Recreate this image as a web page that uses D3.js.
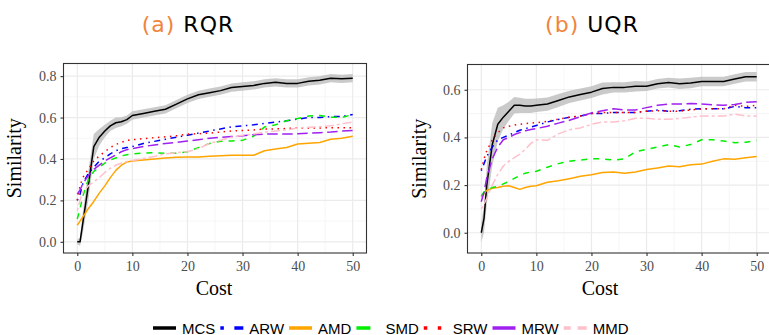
<!DOCTYPE html>
<html>
<head>
<meta charset="utf-8">
<script src="https://cdn.jsdelivr.net/npm/d3@7/dist/d3.min.js"></script>
<style>
  body { margin: 0; background: #fff; }
</style>
</head>
<body>
<svg id="chart" width="769" height="335"></svg>
<script>
// cost grid shared by every series
const cost = [0, 0.5, 1, 2, 3, 4, 5, 6, 7, 8, 9, 10, 12, 14, 16, 18, 20, 22, 24, 26, 28, 30, 32, 34, 36, 38, 40, 42, 44, 46, 48, 50];

const methods = ['MCS', 'ARW', 'AMD', 'SMD', 'SRW', 'MRW', 'MMD'];
const colors = ['#000000', '#0000ff', '#ffa500', '#00ee00', '#ff0000', '#a020f0', '#ffc0cb'];
// ggplot linetypes: solid, dotdash, solid, dashed, dotted, longdash, twodash
const linetypes = [null, [1, 3, 4, 3], null, [4, 4], [1, 3], [7, 3], [2, 2, 6, 2]];

// (a) RQR
const rqrMCS = [0, 0, 0.09, 0.27, 0.46, 0.505, 0.535, 0.56, 0.575, 0.58, 0.59, 0.61, 0.62, 0.63, 0.64, 0.665, 0.69, 0.71, 0.72, 0.73, 0.745, 0.75, 0.755, 0.765, 0.77, 0.765, 0.765, 0.775, 0.78, 0.79, 0.787, 0.79];
const rqrMCSci = [0.01, 0.02, 0.05, 0.07, 0.06, 0.04, 0.03, 0.025, 0.025, 0.022, 0.02, 0.02, 0.02, 0.02, 0.02, 0.02, 0.02, 0.02, 0.02, 0.02, 0.02, 0.02, 0.02, 0.02, 0.02, 0.02, 0.02, 0.02, 0.02, 0.02, 0.02, 0.02];
const rqrARW = [0.2, 0.23, 0.28, 0.33, 0.36, 0.39, 0.405, 0.425, 0.44, 0.45, 0.455, 0.46, 0.475, 0.485, 0.495, 0.505, 0.515, 0.525, 0.535, 0.545, 0.555, 0.56, 0.565, 0.572, 0.578, 0.585, 0.592, 0.6, 0.6, 0.605, 0.605, 0.615];
const rqrAMD = [0.08, 0.1, 0.12, 0.16, 0.195, 0.235, 0.27, 0.31, 0.345, 0.37, 0.385, 0.39, 0.395, 0.4, 0.405, 0.408, 0.41, 0.41, 0.413, 0.416, 0.418, 0.418, 0.418, 0.44, 0.448, 0.455, 0.472, 0.476, 0.48, 0.495, 0.5, 0.51];
const rqrSMD = [0.11, 0.16, 0.22, 0.3, 0.34, 0.36, 0.38, 0.395, 0.405, 0.415, 0.42, 0.425, 0.428, 0.43, 0.428, 0.428, 0.435, 0.455, 0.475, 0.485, 0.487, 0.49, 0.51, 0.555, 0.565, 0.585, 0.595, 0.607, 0.61, 0.602, 0.6, 0.615];
const rqrSRW = [0.2, 0.27, 0.31, 0.35, 0.39, 0.415, 0.435, 0.455, 0.47, 0.48, 0.49, 0.493, 0.498, 0.503, 0.507, 0.512, 0.52, 0.522, 0.525, 0.53, 0.535, 0.538, 0.54, 0.545, 0.545, 0.547, 0.55, 0.55, 0.55, 0.551, 0.551, 0.551];
const rqrMRW = [0.23, 0.25, 0.28, 0.32, 0.35, 0.37, 0.39, 0.405, 0.42, 0.435, 0.445, 0.45, 0.46, 0.468, 0.475, 0.48, 0.487, 0.493, 0.5, 0.505, 0.508, 0.512, 0.517, 0.52, 0.52, 0.52, 0.522, 0.525, 0.527, 0.53, 0.535, 0.537];
const rqrMMD = [0.15, 0.2, 0.24, 0.27, 0.29, 0.31, 0.335, 0.355, 0.37, 0.38, 0.388, 0.393, 0.402, 0.412, 0.425, 0.43, 0.435, 0.45, 0.475, 0.49, 0.505, 0.515, 0.52, 0.53, 0.535, 0.54, 0.55, 0.553, 0.556, 0.56, 0.57, 0.578];

// (b) UQR
const uqrMCS = [0, 0.06, 0.2, 0.37, 0.455, 0.485, 0.51, 0.535, 0.535, 0.532, 0.532, 0.535, 0.54, 0.555, 0.57, 0.58, 0.59, 0.605, 0.61, 0.61, 0.615, 0.615, 0.625, 0.63, 0.625, 0.628, 0.635, 0.635, 0.635, 0.645, 0.655, 0.655];
const uqrMCSci = [0.04, 0.06, 0.08, 0.09, 0.07, 0.05, 0.04, 0.035, 0.032, 0.03, 0.03, 0.028, 0.028, 0.027, 0.026, 0.025, 0.025, 0.025, 0.022, 0.022, 0.022, 0.02, 0.02, 0.02, 0.022, 0.022, 0.02, 0.02, 0.02, 0.02, 0.02, 0.02];
const uqrARW = [0.26, 0.29, 0.32, 0.36, 0.39, 0.4, 0.41, 0.42, 0.43, 0.437, 0.443, 0.45, 0.465, 0.475, 0.485, 0.49, 0.5, 0.5, 0.505, 0.505, 0.505, 0.51, 0.515, 0.51, 0.512, 0.518, 0.52, 0.52, 0.52, 0.53, 0.525, 0.525];
const uqrAMD = [0.15, 0.165, 0.178, 0.187, 0.19, 0.195, 0.197, 0.19, 0.182, 0.19, 0.195, 0.197, 0.212, 0.218, 0.227, 0.237, 0.243, 0.253, 0.255, 0.25, 0.255, 0.265, 0.272, 0.28, 0.277, 0.285, 0.288, 0.3, 0.31, 0.308, 0.315, 0.32];
const uqrSMD = [0.155, 0.17, 0.18, 0.19, 0.195, 0.205, 0.215, 0.228, 0.24, 0.25, 0.255, 0.258, 0.275, 0.29, 0.3, 0.305, 0.31, 0.31, 0.305, 0.31, 0.34, 0.35, 0.36, 0.37, 0.36, 0.37, 0.39, 0.39, 0.385, 0.378, 0.38, 0.387];
const uqrSRW = [0.265, 0.31, 0.345, 0.39, 0.42, 0.44, 0.447, 0.452, 0.455, 0.458, 0.46, 0.462, 0.467, 0.477, 0.485, 0.49, 0.5, 0.505, 0.505, 0.505, 0.505, 0.51, 0.512, 0.51, 0.51, 0.515, 0.52, 0.52, 0.52, 0.535, 0.53, 0.535];
const uqrMRW = [0.13, 0.17, 0.23, 0.31, 0.36, 0.39, 0.4, 0.412, 0.42, 0.428, 0.433, 0.437, 0.447, 0.46, 0.472, 0.487, 0.503, 0.512, 0.52, 0.515, 0.515, 0.525, 0.535, 0.54, 0.54, 0.542, 0.54, 0.537, 0.535, 0.538, 0.547, 0.55];
const uqrMMD = [0.1, 0.12, 0.145, 0.2, 0.245, 0.28, 0.3, 0.315, 0.33, 0.35, 0.375, 0.39, 0.388, 0.415, 0.432, 0.44, 0.455, 0.465, 0.465, 0.47, 0.48, 0.48, 0.477, 0.476, 0.48, 0.485, 0.49, 0.49, 0.49, 0.498, 0.49, 0.49];

const xTicks = [0, 10, 20, 30, 40, 50];
const rqrYTicks = [0, 0.2, 0.4, 0.6, 0.8];
const uqrYTicks = [0, 0.2, 0.4, 0.6];

const svg = d3.select('#chart');

const panels = [
  {
    tag: '(a)', name: 'RQR', titleX: 188,
    series: [rqrMCS, rqrARW, rqrAMD, rqrSMD, rqrSRW, rqrMRW, rqrMMD], ci: rqrMCSci,
    yTicks: rqrYTicks, yDomain: [-0.054, 0.861],
    left: 63.5, right: 366.5, top: 63.5, bottom: 253,
    yLabelX: 21, costX: 214,
  },
  {
    tag: '(b)', name: 'UQR', titleX: 592,
    series: [uqrMCS, uqrARW, uqrAMD, uqrSMD, uqrSRW, uqrMRW, uqrMMD], ci: uqrMCSci,
    yTicks: uqrYTicks, yDomain: [-0.085, 0.706],
    left: 467.5, right: 770.5, top: 64.5, bottom: 253,
    yLabelX: 426, costX: 600,
  },
];

const lw = 1.5;

panels.forEach((p) => {
  const x = d3.scaleLinear().domain([-2.5, 52.5]).range([p.left, p.right]);
  const y = d3.scaleLinear().domain(p.yDomain).range([p.bottom, p.top]);
  const g = svg.append('g');

  // title
  const title = svg.append('text')
    .attr('x', p.titleX).attr('y', 32)
    .attr('text-anchor', 'middle')
    .style('font-family', 'DejaVu Sans, sans-serif')
    .style('font-size', '22px')
    .style('letter-spacing', '1px');
  title.append('tspan').attr('fill', '#f0843c').text(p.tag);
  title.append('tspan').attr('fill', '#000').text(' ' + p.name);

  // minor then major grid
  const xMinor = d3.range(5, 50, 10);
  const yMinor = p.yTicks.slice(0, -1).map((t) => t + 0.1);
  g.selectAll('.xminor').data(xMinor).enter().append('line')
    .attr('x1', (d) => x(d)).attr('x2', (d) => x(d))
    .attr('y1', p.top).attr('y2', p.bottom)
    .style('stroke', '#f2f2f2').style('stroke-width', 0.7);
  g.selectAll('.yminor').data(yMinor).enter().append('line')
    .attr('x1', p.left).attr('x2', p.right)
    .attr('y1', (d) => y(d)).attr('y2', (d) => y(d))
    .style('stroke', '#f2f2f2').style('stroke-width', 0.7);
  g.selectAll('.xmajor').data(xTicks).enter().append('line')
    .attr('x1', (d) => x(d)).attr('x2', (d) => x(d))
    .attr('y1', p.top).attr('y2', p.bottom)
    .style('stroke', '#ebebeb').style('stroke-width', 1.2);
  g.selectAll('.ymajor').data(p.yTicks).enter().append('line')
    .attr('x1', p.left).attr('x2', p.right)
    .attr('y1', (d) => y(d)).attr('y2', (d) => y(d))
    .style('stroke', '#ebebeb').style('stroke-width', 1.2);

  // ribbon for MCS
  const rows = cost.map((c, i) => ({ c, v: p.series[0][i], e: p.ci[i] }));
  g.append('path')
    .datum(rows)
    .attr('d', d3.area().x((d) => x(d.c)).y0((d) => y(d.v - d.e)).y1((d) => y(d.v + d.e)))
    .style('fill', '#bdbdbd')
    .style('opacity', 0.8);

  const line = d3.line().x((d) => x(d[0])).y((d) => y(d[1]));
  p.series.forEach((s, k) => {
    g.append('path')
      .datum(cost.map((c, i) => [c, s[i]]))
      .attr('d', line)
      .style('fill', 'none')
      .style('stroke', colors[k])
      .style('stroke-width', lw)
      .style('stroke-linejoin', 'round')
      .style('stroke-dasharray', linetypes[k] ? linetypes[k].map((v) => v * lw).join(',') : null);
  });

  // panel border
  g.append('rect')
    .attr('x', p.left).attr('y', p.top)
    .attr('width', p.right - p.left).attr('height', p.bottom - p.top)
    .style('fill', 'none').style('stroke', '#333').style('stroke-width', 1.1);

  // axes
  const xAxis = g.append('g').attr('transform', `translate(0,${p.bottom})`)
    .call(d3.axisBottom(x).tickValues(xTicks).tickSize(3).tickPadding(5).tickFormat(d3.format('d')));
  const yAxis = g.append('g').attr('transform', `translate(${p.left},0)`)
    .call(d3.axisLeft(y).tickValues(p.yTicks).tickSize(3).tickPadding(4).tickFormat(d3.format('.1f')));
  [xAxis, yAxis].forEach((a) => {
    a.select('.domain').remove();
    a.selectAll('line').style('stroke', '#333').style('stroke-width', 1.1);
    a.selectAll('text')
      .style('font-family', 'Liberation Serif, serif')
      .style('font-size', '14px')
      .style('fill', '#4d4d4d');
  });

  svg.append('text')
    .attr('x', p.costX).attr('y', 295)
    .attr('text-anchor', 'middle')
    .style('font-family', 'Liberation Serif, serif')
    .style('font-size', '20px')
    .text('Cost');
  svg.append('text')
    .attr('transform', `translate(${p.yLabelX},${(p.top + p.bottom) / 2}) rotate(-90)`)
    .attr('text-anchor', 'middle')
    .style('font-family', 'Liberation Serif, serif')
    .style('font-size', '20px')
    .text('Similarity');
});

// legend
const legend = svg.append('g').attr('transform', 'translate(0,328)');
const klw = 3.5;
let lx = 153;
methods.forEach((m, k) => {
  legend.append('line')
    .attr('x1', lx).attr('x2', lx + 23).attr('y1', 0).attr('y2', 0)
    .style('stroke', colors[k])
    .style('stroke-width', klw)
    .style('stroke-dasharray', linetypes[k] ? linetypes[k].map((v) => v * klw).join(',') : null);
  const t = legend.append('text')
    .attr('x', lx + 29).attr('y', 5.5)
    .style('font-family', 'Liberation Sans, Arial, sans-serif')
    .style('font-size', '15px')
    .text(m);
  lx += 29 + t.node().getComputedTextLength() + 5;
});
</script>
</body>
</html>
